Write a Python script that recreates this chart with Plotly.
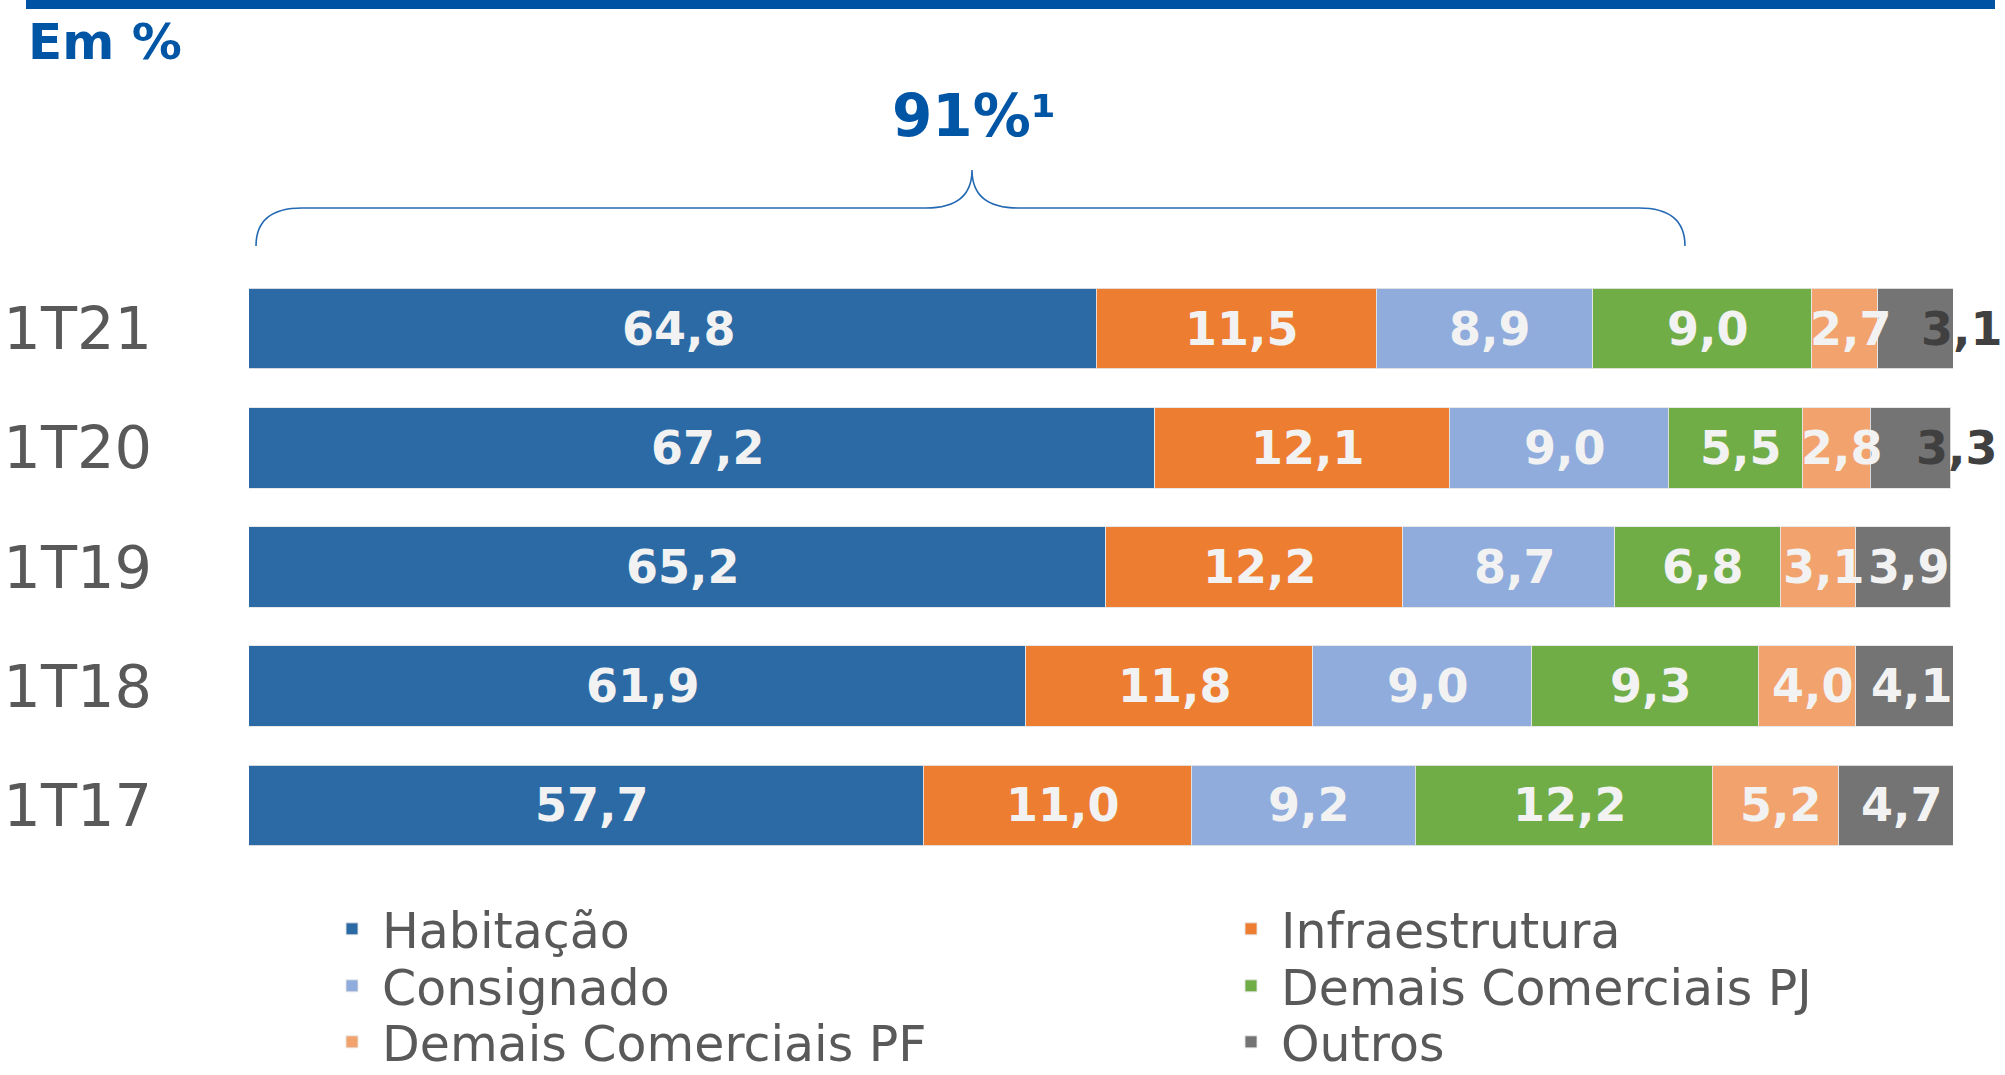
import plotly.graph_objects as go

# ---------------- data ----------------
CATEGORIES = ["1T21", "1T20", "1T19", "1T18", "1T17"]
SERIES = ["Habitação", "Infraestrutura", "Consignado",
          "Demais Comerciais PJ", "Demais Comerciais PF", "Outros"]
HABITACAO = [64.8, 67.2, 65.2, 61.9, 57.7]
INFRAESTRUTURA = [11.5, 12.1, 12.2, 11.8, 11.0]
CONSIGNADO = [8.9, 9.0, 8.7, 9.0, 9.2]
DEMAIS_PJ = [9.0, 5.5, 6.8, 9.3, 12.2]
DEMAIS_PF = [2.7, 2.8, 3.1, 4.0, 5.2]
OUTROS = [3.1, 3.3, 3.9, 4.1, 4.7]
HEADER = "Em %"
BRACE_LABEL = "91%¹"

VALUES = [HABITACAO, INFRAESTRUTURA, CONSIGNADO, DEMAIS_PJ, DEMAIS_PF, OUTROS]

# ---------------- styles ----------------
COLORS = ["#2B6AA5", "#ED7D31", "#8FACDC", "#70AD47", "#F2A36D", "#747474"]
DARK_LABELS = {("Outros", "1T21"), ("Outros", "1T20")}
BLUE = "#0055A5"
GREY_TXT = "#595959"
FONT = "DejaVu Sans"
X_MIN, X_MAX = 30, 100

W, H = 2005, 1075
ML, MR, MT, MB = 249, 52, 269, 210
PW, PH = W - ML - MR, H - MT - MB

# legend grid (pixel positions of the two columns / three rows)
LEG_COL_X = [322, 1221]
LEG_ROW_Y = [929, 986, 1042]


def px(x):
    return (x - ML) / PW


def py(y):
    return (H - MB - y) / PH


def fmt(v):
    return f"{v:.1f}".replace(".", ",")


fig = go.Figure()
legends = {}
for i, (name, vals, col) in enumerate(zip(SERIES, VALUES, COLORS)):
    lg = "legend" if i == 0 else f"legend{i + 1}"
    fig.add_trace(go.Bar(
        name=name, y=CATEGORIES, x=vals, orientation="h",
        marker=dict(color=col, line=dict(color="rgba(230,230,230,0.9)", width=1)),
        width=0.675, legend=lg, hoverinfo="name+x",
    ))
    legends[lg] = dict(
        orientation="v", xanchor="left", yanchor="middle",
        x=px(LEG_COL_X[i % 2]), y=py(LEG_ROW_Y[i // 2]),
        font=dict(family=FONT, size=49, color=GREY_TXT), itemwidth=50,
        bgcolor="rgba(0,0,0,0)", itemclick=False, itemdoubleclick=False,
    )

# value labels, centred on the visible part of every segment
annotations = []
for j, cat in enumerate(CATEGORIES):
    start = 0.0
    for name, vals in zip(SERIES, VALUES):
        v = vals[j]
        end = start + v
        centre = (max(start, X_MIN) + end) / 2
        dark = (name, cat) in DARK_LABELS
        annotations.append(dict(
            x=centre, y=cat, xref="x", yref="y", text=fmt(v), showarrow=False,
            xanchor="center", yanchor="middle", xshift=47 if dark else 6,
            font=dict(family=FONT, size=46, weight="bold",
                      color="#404040" if dark else "#F2F2F2"),
        ))
        start = end

annotations.append(dict(
    x=px(26), y=py(42), xref="paper", yref="paper", text=HEADER, showarrow=False,
    xanchor="left", yanchor="middle",
    font=dict(family=FONT, size=50, weight="bold", color=BLUE)))
annotations.append(dict(
    x=px(974), y=py(116), xref="paper", yref="paper", text=BRACE_LABEL, showarrow=False,
    xanchor="center", yanchor="middle",
    font=dict(family=FONT, size=58, weight="bold", color=BLUE)))

# curly brace
pts = [(256, 246), (256, 208), (302, 208), (926, 208), (972, 208), (972, 170),
       (972, 208), (1018, 208), (1639, 208), (1685, 208), (1685, 246)]
P = [(px(a), py(b)) for a, b in pts]
path = (f"M {P[0][0]},{P[0][1]} Q {P[1][0]},{P[1][1]} {P[2][0]},{P[2][1]} "
        f"L {P[3][0]},{P[3][1]} Q {P[4][0]},{P[4][1]} {P[5][0]},{P[5][1]} "
        f"Q {P[6][0]},{P[6][1]} {P[7][0]},{P[7][1]} "
        f"L {P[8][0]},{P[8][1]} Q {P[9][0]},{P[9][1]} {P[10][0]},{P[10][1]}")

shapes = [
    dict(type="rect", xref="paper", yref="paper", x0=px(26), x1=px(1995),
         y0=py(0), y1=py(9), fillcolor="#0052A5", line=dict(width=0), layer="above"),
    dict(type="path", xref="paper", yref="paper", path=path,
         line=dict(color="#2469B3", width=1.6)),
]

fig.update_layout(
    template="none",
    width=W, height=H,
    margin=dict(l=ML, r=MR, t=MT, b=MB, pad=0, autoexpand=False),
    paper_bgcolor="white", plot_bgcolor="white",
    barmode="stack", bargap=0.34,
    showlegend=True,
    xaxis=dict(range=[X_MIN, X_MAX], visible=False, showgrid=False, zeroline=False,
               fixedrange=True),
    yaxis=dict(type="category", categoryorder="array", categoryarray=CATEGORIES,
               autorange="reversed", showgrid=False, zeroline=False, showline=False,
               ticks="", ticklabelstandoff=96,
               tickfont=dict(family=FONT, size=59, color=GREY_TXT), fixedrange=True),
    annotations=annotations,
    shapes=shapes,
    font=dict(family=FONT),
    **legends,
)

fig.write_html("out.html",
               config={"displayModeBar": False},
               post_script="document.body.style.margin='0';"
                           "document.body.style.overflow='hidden';")
